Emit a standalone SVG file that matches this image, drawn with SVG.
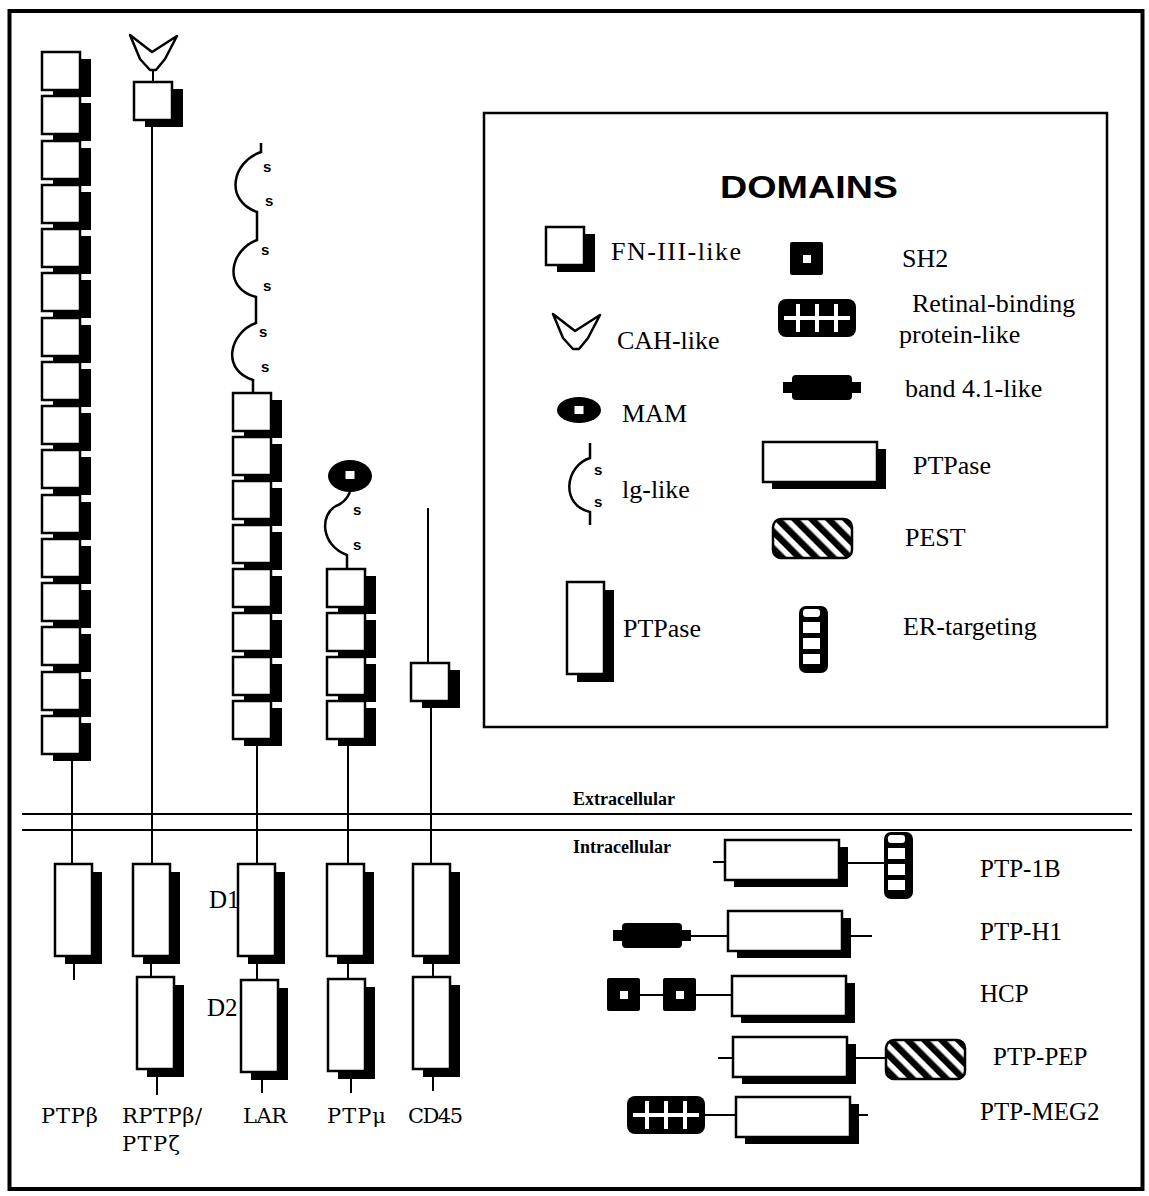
<svg xmlns="http://www.w3.org/2000/svg" xmlns:xlink="http://www.w3.org/1999/xlink" width="1149" height="1196" viewBox="0 0 1149 1196">
<style>
.box{fill:#fff;stroke:#000;stroke-width:2.5}
.sh{fill:#000}
.ln{stroke:#000;stroke-width:2;fill:none}
.wave{stroke:#000;stroke-width:2.5;fill:none}
.lg{font-family:"Liberation Serif","Times New Roman",serif;font-size:26px;fill:#000}
.col{font-family:"DejaVu Serif","Liberation Serif",serif;font-size:21px;fill:#000}
.rl{font-family:"Liberation Serif","Times New Roman",serif;font-size:25px;fill:#000}
.mem{font-family:"Liberation Serif","Times New Roman",serif;font-size:18px;font-weight:bold;fill:#000}
.s{font-family:"Liberation Sans",Arial,sans-serif;font-size:15px;font-weight:bold;fill:#000}
.dom{font-family:"Liberation Sans",Arial,sans-serif;font-size:31px;font-weight:bold;fill:#000}
</style>
<defs>
<g id="fn"><rect x="11" y="7" width="38" height="38" class="sh"/><rect x="0" y="0" width="38" height="38" class="box"/></g>
<g id="pv"><rect x="10" y="8" width="37" height="92" class="sh"/><rect x="0" y="0" width="37" height="92" class="box"/></g>
<g id="ph"><rect x="9" y="7" width="114" height="40" class="sh"/><rect x="0" y="0" width="114" height="40" class="box"/></g>
<g id="sh2"><rect x="0" y="0" width="33" height="33" rx="2" fill="#000"/><rect x="13" y="13" width="8" height="8" fill="#fff"/></g>
<g id="b41"><rect x="0" y="7" width="14" height="11" fill="#000"/><rect x="66" y="7" width="12" height="11" fill="#000"/><rect x="9" y="0" width="60" height="25" rx="4" fill="#000"/></g>
<g id="rbp"><rect x="0" y="0" width="78" height="38" rx="8" fill="#000"/><g stroke="#fff" stroke-width="4"><line x1="6" y1="19" x2="72" y2="19"/><line x1="20" y1="5" x2="20" y2="33"/><line x1="39" y1="5" x2="39" y2="33"/><line x1="58" y1="5" x2="58" y2="33"/></g></g>
<pattern id="stripes" patternUnits="userSpaceOnUse" width="12" height="12" patternTransform="rotate(-45)"><rect x="0" y="0" width="6.5" height="12" fill="#000"/></pattern>
<g id="pest"><rect x="0" y="0" width="79" height="39" rx="8" fill="#fff"/><rect x="0" y="0" width="79" height="39" rx="8" fill="url(#stripes)" stroke="#000" stroke-width="2.5"/></g>
<g id="er"><rect x="0" y="0" width="29" height="67" rx="7" fill="#000"/><g fill="#fff"><rect x="4" y="3" width="17" height="8" rx="3"/><rect x="4" y="16" width="17" height="11"/><rect x="4" y="32" width="17" height="11"/><rect x="4" y="48" width="17" height="10"/></g></g>
<g id="mam"><ellipse cx="22" cy="13" rx="22" ry="13" fill="#000"/><rect x="17.5" y="9" width="9" height="8" fill="#fff"/></g>
<g id="cah"><polygon points="0,0 22,17 47,1 35,24 26,35 20,35 10,24" fill="#fff" stroke="#000" stroke-width="2.5" stroke-linejoin="round"/></g>
</defs>

<rect x="9.5" y="11" width="1133" height="1178" fill="none" stroke="#000" stroke-width="4"/>

<g id="connectors">
<line class="ln" x1="22" y1="814" x2="1132" y2="814"/>
<line class="ln" x1="22" y1="830" x2="1132" y2="830"/>
<line class="ln" x1="72" y1="760" x2="72" y2="864"/>
<line class="ln" x1="74" y1="963" x2="74" y2="980"/>
<line class="ln" x1="153" y1="70" x2="153" y2="82"/>
<line class="ln" x1="152" y1="125" x2="152" y2="864"/>
<line class="ln" x1="151" y1="963" x2="151" y2="977"/>
<line class="ln" x1="157" y1="1077" x2="157" y2="1095"/>
<path class="wave" d="M261,143 L261,152 C232,162 224,200 257,212 L257,240 C230,250 222,288 256,297 L256,323 C229,333 221,370 253,380 L253,393"/>
<line class="ln" x1="257" y1="746" x2="257" y2="864"/>
<line class="ln" x1="257" y1="963" x2="257" y2="980"/>
<line class="ln" x1="262" y1="1080" x2="262" y2="1093"/>
<path class="wave" d="M350,492 Q346,502 336,506 C320,514 320,545 347,555 L347,569"/>
<line class="ln" x1="348" y1="746" x2="348" y2="864"/>
<line class="ln" x1="348" y1="963" x2="348" y2="979"/>
<line class="ln" x1="351" y1="1079" x2="351" y2="1093"/>
<line class="ln" x1="428" y1="508" x2="428" y2="663"/>
<line class="ln" x1="431" y1="708" x2="431" y2="864"/>
<line class="ln" x1="433" y1="963" x2="433" y2="977"/>
<line class="ln" x1="433" y1="1077" x2="433" y2="1091"/>
<line class="ln" x1="713" y1="862" x2="725" y2="862"/>
<line class="ln" x1="846" y1="863" x2="884" y2="863"/>
<line class="ln" x1="690" y1="936" x2="728" y2="936"/>
<line class="ln" x1="850" y1="936" x2="872" y2="936"/>
<line class="ln" x1="640" y1="995" x2="663" y2="995"/>
<line class="ln" x1="695" y1="995" x2="732" y2="995"/>
<line class="ln" x1="718" y1="1058" x2="733" y2="1058"/>
<line class="ln" x1="856" y1="1058" x2="886" y2="1058"/>
<line class="ln" x1="703" y1="1115" x2="736" y2="1115"/>
<line class="ln" x1="858" y1="1115" x2="868" y2="1115"/>
</g>

<g id="ptpb">
<use xlink:href="#fn" x="42" y="52"/>
<use xlink:href="#fn" x="42" y="96"/>
<use xlink:href="#fn" x="42" y="141"/>
<use xlink:href="#fn" x="42" y="185"/>
<use xlink:href="#fn" x="42" y="229"/>
<use xlink:href="#fn" x="42" y="273"/>
<use xlink:href="#fn" x="42" y="318"/>
<use xlink:href="#fn" x="42" y="362"/>
<use xlink:href="#fn" x="42" y="406"/>
<use xlink:href="#fn" x="42" y="450"/>
<use xlink:href="#fn" x="42" y="495"/>
<use xlink:href="#fn" x="42" y="539"/>
<use xlink:href="#fn" x="42" y="583"/>
<use xlink:href="#fn" x="42" y="627"/>
<use xlink:href="#fn" x="42" y="672"/>
<use xlink:href="#fn" x="42" y="716"/>
<use xlink:href="#pv" x="55" y="864"/>
<text class="col" x="41" y="1123" textLength="57">PTPβ</text>
</g>

<g id="rptpb">
<use xlink:href="#cah" x="130" y="35"/>
<use xlink:href="#fn" x="134" y="82"/>
<use xlink:href="#pv" x="133" y="864"/>
<use xlink:href="#pv" x="137" y="977"/>
<text class="col" x="122" y="1123" textLength="80">RPTPβ/</text>
<text class="col" x="122" y="1151" textLength="58">PTPζ</text>
</g>

<g id="lar">
<text class="s" x="263" y="172">s</text>
<text class="s" x="265" y="206">s</text>
<text class="s" x="261" y="255">s</text>
<text class="s" x="263" y="291">s</text>
<text class="s" x="259" y="337">s</text>
<text class="s" x="261" y="372">s</text>
<use xlink:href="#fn" x="233" y="393"/>
<use xlink:href="#fn" x="233" y="437"/>
<use xlink:href="#fn" x="233" y="481"/>
<use xlink:href="#fn" x="233" y="525"/>
<use xlink:href="#fn" x="233" y="569"/>
<use xlink:href="#fn" x="233" y="613"/>
<use xlink:href="#fn" x="233" y="657"/>
<use xlink:href="#fn" x="233" y="701"/>
<use xlink:href="#pv" x="238" y="864"/>
<use xlink:href="#pv" x="241" y="980"/>
<text class="rl" x="209" y="908" font-size="19">D1</text>
<text class="rl" x="207" y="1016" font-size="19">D2</text>
<text class="col" x="243" y="1123" textLength="44">LAR</text>
</g>

<g id="ptpm">
<ellipse cx="350" cy="476" rx="22" ry="16" fill="#000"/>
<rect x="345.5" y="471" width="9" height="8" fill="#fff"/>
<text class="s" x="353" y="515">s</text>
<text class="s" x="353" y="550">s</text>
<use xlink:href="#fn" x="327" y="569"/>
<use xlink:href="#fn" x="327" y="613"/>
<use xlink:href="#fn" x="327" y="657"/>
<use xlink:href="#fn" x="327" y="701"/>
<use xlink:href="#pv" x="327" y="864"/>
<use xlink:href="#pv" x="328" y="979"/>
<text class="col" x="327" y="1123" textLength="59">PTPμ</text>
</g>

<g id="cd45">
<use xlink:href="#fn" x="411" y="663"/>
<use xlink:href="#pv" x="413" y="864"/>
<use xlink:href="#pv" x="413" y="977"/>
<text class="col" x="408" y="1123" textLength="55">CD45</text>
</g>

<g id="membrane-labels">
<text class="mem" x="573" y="805">Extracellular</text>
<text class="mem" x="573" y="853">Intracellular</text>
</g>

<g id="ptp1b">
<use xlink:href="#ph" x="725" y="840"/>
<use xlink:href="#er" x="884" y="832"/>
<text class="rl" x="980" y="877">PTP-1B</text>
</g>
<g id="ptph1">
<use xlink:href="#b41" x="613" y="923"/>
<use xlink:href="#ph" x="728" y="911"/>
<text class="rl" x="980" y="940">PTP-H1</text>
</g>
<g id="hcp">
<use xlink:href="#sh2" x="607" y="978"/>
<use xlink:href="#sh2" x="663" y="978"/>
<use xlink:href="#ph" x="732" y="976"/>
<text class="rl" x="980" y="1002">HCP</text>
</g>
<g id="ptppep">
<use xlink:href="#ph" x="733" y="1037"/>
<use xlink:href="#pest" x="886" y="1040"/>
<text class="rl" x="993" y="1065">PTP-PEP</text>
</g>
<g id="ptpmeg2">
<use xlink:href="#rbp" x="627" y="1096"/>
<use xlink:href="#ph" x="736" y="1097"/>
<text class="rl" x="980" y="1120">PTP-MEG2</text>
</g>

<g id="legend">
<rect x="484" y="113" width="623" height="614" fill="none" stroke="#000" stroke-width="2.5"/>
<text class="dom" x="720" y="198" textLength="178" lengthAdjust="spacingAndGlyphs">DOMAINS</text>
<use xlink:href="#fn" x="546" y="227"/>
<text class="lg" x="611" y="260" textLength="130">FN-III-like</text>
<use xlink:href="#cah" x="553" y="314"/>
<text class="lg" x="617" y="349">CAH-like</text>
<use xlink:href="#mam" x="557" y="397"/>
<text class="lg" x="622" y="422">MAM</text>
<path class="wave" d="M590,443 L590,458 C565,466 560,505 590,512 L590,525"/>
<text class="s" x="594" y="475">s</text>
<text class="s" x="594" y="507">s</text>
<text class="lg" x="622" y="498">lg-like</text>
<use xlink:href="#pv" x="567" y="582"/>
<text class="lg" x="623" y="637" font-size="27">PTPase</text>
<use xlink:href="#sh2" x="790" y="242"/>
<text class="lg" x="902" y="267">SH2</text>
<use xlink:href="#rbp" x="778" y="299"/>
<text class="lg" x="912" y="312">Retinal-binding</text>
<text class="lg" x="899" y="343">protein-like</text>
<use xlink:href="#b41" x="783" y="375"/>
<text class="lg" x="905" y="397">band 4.1-like</text>
<use xlink:href="#ph" x="763" y="442"/>
<text class="lg" x="913" y="474">PTPase</text>
<use xlink:href="#pest" x="773" y="519"/>
<text class="lg" x="905" y="546">PEST</text>
<use xlink:href="#er" x="799" y="606"/>
<text class="lg" x="903" y="635">ER-targeting</text>
</g>
</svg>
